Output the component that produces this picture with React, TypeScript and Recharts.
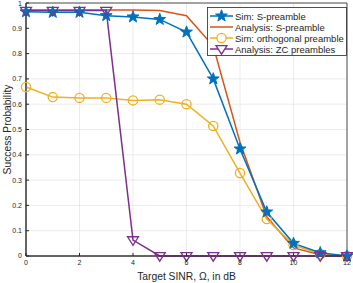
import React from "react";
import { LineChart, Line, XAxis, YAxis, CartesianGrid, ReferenceArea } from "recharts";

const snr = [0, 1, 2, 3, 4, 5, 6, 7, 8, 9, 10, 11, 12];
const simS = [0.965, 0.963, 0.963, 0.95, 0.945, 0.935, 0.885, 0.7, 0.423, 0.174, 0.05, 0.013, 0.0];
const anaS = [0.972, 0.972, 0.972, 0.972, 0.972, 0.97, 0.95, 0.83, 0.45, 0.155, 0.032, 0.005, 0.0];
const simOrth = [0.668, 0.628, 0.625, 0.625, 0.615, 0.618, 0.6, 0.514, 0.328, 0.146, 0.043, 0.008, 0.0];
const anaZC = [0.97, 0.97, 0.97, 0.97, 0.063, 0.0, 0.0, 0.0, 0.0, 0.0, 0.0, 0.0, 0.0];
const yTicks = [0, 0.1, 0.2, 0.3, 0.4, 0.5, 0.6, 0.7, 0.8, 0.9, 1];
const xTicks = [0, 2, 4, 6, 8, 10, 12];

const BLUE = "#0072BD";
const ORANGE = "#D95319";
const YELLOW = "#EDB120";
const PURPLE = "#7E2F8E";

const data = snr.map((x, i) => ({ x, simS: simS[i], anaS: anaS[i], simOrth: simOrth[i], anaZC: anaZC[i] }));

function starPath(cx: number, cy: number, R: number, r: number) {
  let d = "";
  for (let i = 0; i < 10; i++) {
    const rad = i % 2 === 0 ? R : r;
    const a = -Math.PI / 2 + (i * Math.PI) / 5;
    d += (i === 0 ? "M" : "L") + (cx + rad * Math.cos(a)).toFixed(2) + "," + (cy + rad * Math.sin(a)).toFixed(2);
  }
  return d + "Z";
}

const Star = (props: any) => {
  const { cx, cy, key } = props;
  if (cx == null || cy == null) return null;
  return <path key={key} d={starPath(cx, cy, 6.2, 2.5)} fill={BLUE} stroke={BLUE} strokeWidth={1} />;
};

const Circ = (props: any) => {
  const { cx, cy, key } = props;
  if (cx == null || cy == null) return null;
  return <circle key={key} cx={cx} cy={cy} r={4.6} fill="none" stroke={YELLOW} strokeWidth={1.3} />;
};

const Tri = (props: any) => {
  const { cx, cy, key } = props;
  if (cx == null || cy == null) return null;
  const s = 5.5;
  return (
    <path
      key={key}
      d={`M${cx - s},${cy - s * 0.6}L${cx + s},${cy - s * 0.6}L${cx},${cy + s * 0.95}Z`}
      fill="none"
      stroke={PURPLE}
      strokeWidth={1.3}
    />
  );
};

const legendItems = [
  { label: "Sim: S-preamble", color: BLUE, mark: "star" },
  { label: "Analysis: S-preamble", color: ORANGE, mark: "none" },
  { label: "Sim: orthogonal preamble", color: YELLOW, mark: "circle" },
  { label: "Analysis: ZC preambles", color: PURPLE, mark: "tri" },
];

const font = "Liberation Sans, Arial, sans-serif";

const LegendBox = () => (
  <svg width={140} height={49} style={{ position: "absolute", left: 207, top: 7 }}>
    <rect x={0.5} y={0.5} width={139} height={48} fill="#fff" stroke="#262626" strokeWidth={0.8} />
    {legendItems.map((it, i) => {
      const y = 9 + i * 11;
      return (
        <g key={it.label}>
          <line x1={3} x2={26} y1={y} y2={y} stroke={it.color} strokeWidth={1.5} />
          {it.mark === "star" && <path d={starPath(14.5, y, 6.2, 2.5)} fill={BLUE} stroke={BLUE} />}
          {it.mark === "circle" && <circle cx={14.5} cy={y} r={4.6} fill="#fff" stroke={YELLOW} strokeWidth={1.3} />}
          {it.mark === "tri" && (
            <path d={`M${14.5 - 5.5},${y - 3.3}L${14.5 + 5.5},${y - 3.3}L${14.5},${y + 5.2}Z`} fill="#fff" stroke={PURPLE} strokeWidth={1.3} />
          )}
          <text x={28} y={y + 3.5} fontSize={9.5} fill="#262626" fontFamily={font}>
            {it.label}
          </text>
        </g>
      );
    })}
  </svg>
);

export default function App() {
  return (
    <div style={{ position: "absolute", left: 0, top: 0, width: 353, height: 283, background: "#fff" }}>
      <LineChart width={353} height={283} data={data} margin={{ top: 3, right: 6, left: 0, bottom: 0 }}>
        <CartesianGrid stroke="#e6e6e6" strokeWidth={0.8} />
        <XAxis
          dataKey="x"
          type="number"
          domain={[0, 12]}
          ticks={xTicks}
          height={27}
          stroke="#262626"
          tickSize={-3}
          tickMargin={7}
          tick={{ fontSize: 7, fill: "#262626", fontFamily: font }}
          label={{ value: "Target SINR, \u03a9, in dB", position: "insideBottom", offset: 3, fontSize: 10.3, fill: "#262626", fontFamily: font }}
        />
        <YAxis
          type="number"
          domain={[0, 1]}
          ticks={yTicks}
          width={26}
          stroke="#262626"
          tickSize={-3}
          tickMargin={7}
          tick={{ fontSize: 7, fill: "#262626", fontFamily: font }}
          label={{ value: "Success Probability", angle: -90, position: "insideLeft", offset: 0, dx: 7, fontSize: 10.3, fill: "#262626", fontFamily: font, style: { textAnchor: "middle" } }}
        />
        <ReferenceArea x1={0} x2={12} y1={0} y2={1} fill="none" stroke="#262626" strokeWidth={0.8} ifOverflow="visible" />
        <Line dataKey="anaS" stroke={ORANGE} strokeWidth={1.5} dot={false} isAnimationActive={false} />
        <Line dataKey="simOrth" stroke={YELLOW} strokeWidth={1.5} dot={Circ} isAnimationActive={false} />
        <Line dataKey="simS" stroke={BLUE} strokeWidth={1.5} dot={Star} isAnimationActive={false} />
        <Line dataKey="anaZC" stroke={PURPLE} strokeWidth={1.5} dot={Tri} isAnimationActive={false} />
      </LineChart>
      <LegendBox />
    </div>
  );
}
